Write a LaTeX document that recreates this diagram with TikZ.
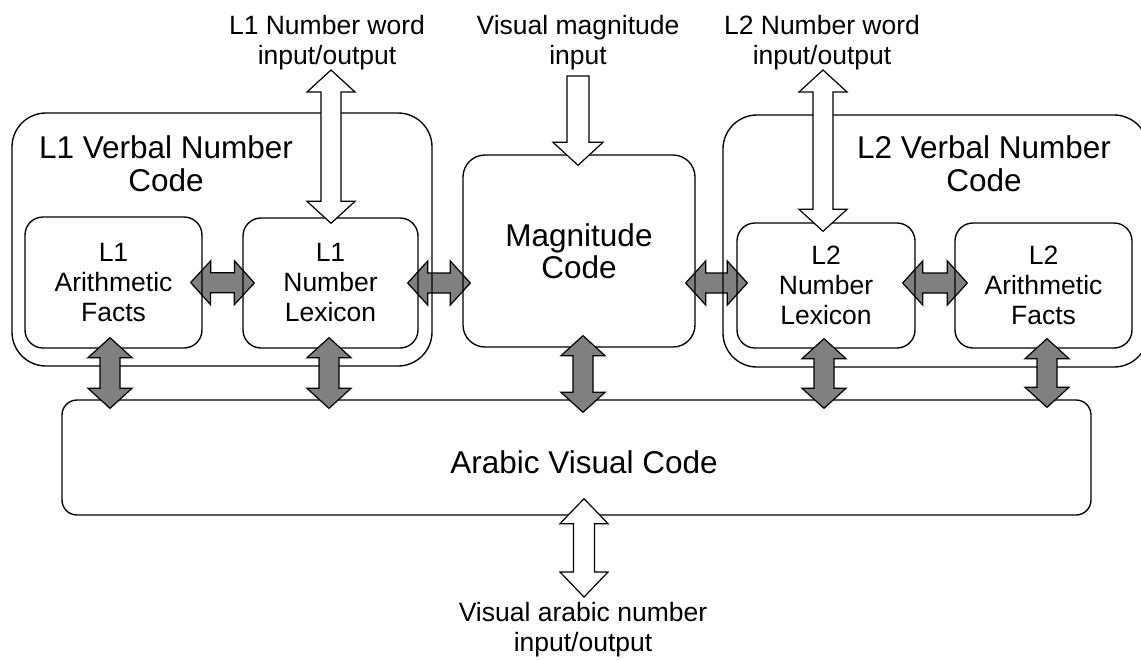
\documentclass[tikz,border=0pt]{standalone}
\usepackage{fontspec}
\setmainfont{Liberation Sans}
\usetikzlibrary{calc,backgrounds}

% block arrow parameters: head length, head half width, shaft half width
\def\bah{20pt}\def\baw{22pt}\def\bas{10pt}

\tikzset{
  blkdims/.code n args={3}{\def\bah{#1}\def\baw{#2}\def\bas{#3}},
  % double-headed block arrow from start to target
  dblblock/.style={to path={
    (\tikztostart)
    -- ($(\tikztostart)!\bah!(\tikztotarget)!\baw!90:(\tikztotarget)$)
    -- ($(\tikztostart)!\bah!(\tikztotarget)!\bas!90:(\tikztotarget)$)
    -- ($(\tikztotarget)!\bah!(\tikztostart)!\bas!-90:(\tikztostart)$)
    -- ($(\tikztotarget)!\bah!(\tikztostart)!\baw!-90:(\tikztostart)$)
    -- (\tikztotarget)
    -- ($(\tikztotarget)!\bah!(\tikztostart)!\baw!90:(\tikztostart)$)
    -- ($(\tikztotarget)!\bah!(\tikztostart)!\bas!90:(\tikztostart)$)
    -- ($(\tikztostart)!\bah!(\tikztotarget)!\bas!-90:(\tikztotarget)$)
    -- ($(\tikztostart)!\bah!(\tikztotarget)!\baw!-90:(\tikztotarget)$)
    -- cycle}},
  % single-headed block arrow pointing at the target
  sglblock/.style={to path={
    ($(\tikztostart)!\bas!90:(\tikztotarget)$)
    -- ($(\tikztotarget)!\bah!(\tikztostart)!\bas!-90:(\tikztostart)$)
    -- ($(\tikztotarget)!\bah!(\tikztostart)!\baw!-90:(\tikztostart)$)
    -- (\tikztotarget)
    -- ($(\tikztotarget)!\bah!(\tikztostart)!\baw!90:(\tikztostart)$)
    -- ($(\tikztotarget)!\bah!(\tikztostart)!\bas!90:(\tikztostart)$)
    -- ($(\tikztostart)!\bas!-90:(\tikztotarget)$)
    -- cycle}},
  grayarrow/.style={draw=black, line width=1.2pt, fill=arrowgray, line join=miter,
    blkdims={20pt}{22pt}{10pt}},
  whitearrow/.style={draw=black, line width=1.2pt, fill=white, line join=miter,
    blkdims={23pt}{24pt}{10.5pt}},
  box/.style={draw=black, line width=1.35pt, align=center, inner sep=0pt},
  bigtext/.style={font=\fontsize{31.5}{33}\selectfont, align=center, inner sep=0pt},
  smalltext/.style={font=\fontsize{26.5}{30}\selectfont, align=center, inner sep=0pt},
  inbox/.style={box, rounded corners=18pt, minimum width=177pt, minimum height=130pt,
    font=\fontsize{26.5}{30}\selectfont},
}
\definecolor{arrowgray}{RGB}{128,128,128}

\begin{document}
\begin{tikzpicture}[x=1pt, y=-1pt]
  \useasboundingbox (0,0) rectangle (1141,659);

  % outer verbal code regions
  \node[box, rounded corners=34pt, minimum width=420pt, minimum height=253pt] (l1v) at (222,239.5) {};
  \node[box, rounded corners=34pt, minimum width=425pt, minimum height=252pt] (l2v) at (935.5,241) {};
  \node[bigtext] (l1vt) at (166,163.5) {L1 Verbal Number\\Code};
  \node[bigtext] (l2vt) at (984,163.5) {L2 Verbal Number\\Code};

  % inner stores
  \node[inbox, minimum height=131pt] (l1af) at (113.5,282.5) {L1\\Arithmetic\\Facts};
  \node[inbox, minimum width=175pt, minimum height=130pt] (l1nl) at (330.5,283) {L1\\Number\\Lexicon};
  \node[inbox, minimum width=178pt, minimum height=125pt] (l2nl) at (826,285.5) {L2\\Number\\Lexicon};
  \node[inbox, minimum height=125pt] (l2af) at (1043.5,285.5) {L2\\Arithmetic\\Facts};

  % central magnitude code
  \node[box, rounded corners=22pt, minimum width=232pt, minimum height=192pt,
        font=\fontsize{31.5}{32}\selectfont] (mag) at (579,251) {Magnitude\\Code};

  % Arabic visual code
  \node[box, rounded corners=15pt, minimum width=1029pt, minimum height=115pt] (arab) at (576.5,457.5) {};
  \node[bigtext] (arabt) at (584,462) {Arabic Visual Code};

  % input/output labels
  \node[smalltext] (l1w) at (327,43) {L1 Number word\\input/output};
  \node[smalltext] (vmi) at (578,43) {Visual magnitude\\input};
  \node[smalltext] (l2w) at (822,43) {L2 Number word\\input/output};
  \node[smalltext] (van) at (583,630) {Visual arabic number\\input/output};

  \coordinate (l1in) at (331,70);
  \coordinate (magin) at (578,76);
  \coordinate (l2in) at (823,70);
  \coordinate (arabout) at (584,597);

  % horizontal links between stores lie beneath the box outlines
  \begin{pgfonlayer}{background}
    \fill[white] (0,0) rectangle (1141,659);
    \draw[grayarrow] ([xshift=-12pt]l1af.east) to[dblblock] ([xshift=12pt]l1nl.west);
    \draw[grayarrow] ([xshift=-11pt]l1nl.east) to[dblblock] ([xshift=8pt]mag.west |- l1nl.east);
    \draw[grayarrow] ([xshift=-10pt]mag.east |- l1nl.east) to[dblblock] ([xshift=11pt]l2nl.west |- l1nl.east);
    \draw[grayarrow] ([xshift=-13pt]l2nl.east |- l1nl.east) to[dblblock] ([xshift=13pt]l2af.west |- l1nl.east);
  \end{pgfonlayer}

  % vertical links to the Arabic visual code
  \draw[grayarrow] ([xshift=-3.5pt,yshift=11pt]l1af.south) to[dblblock] ([xshift=-3.5pt,yshift=-9pt]arab.north -| l1af.south);
  \draw[grayarrow] ([xshift=-1.5pt,yshift=11pt]l1nl.south) to[dblblock] ([xshift=-1.5pt,yshift=-9pt]arab.north -| l1nl.south);
  \draw[grayarrow] ([xshift=4pt,yshift=12pt]mag.south) to[dblblock] ([xshift=4pt,yshift=-13pt]arab.north -| mag.south);
  \draw[grayarrow] ([xshift=-2pt,yshift=10pt]l2nl.south) to[dblblock] ([xshift=-2pt,yshift=-9pt]arab.north -| l2nl.south);
  \draw[grayarrow] ([xshift=3.5pt,yshift=10pt]l2af.south) to[dblblock] ([xshift=3.5pt,yshift=-8pt]arab.north -| l2af.south);

  % external input/output channels
  \draw[whitearrow, blkdims={22pt}{24pt}{10pt}] (l1in) to[dblblock] ([xshift=0.5pt,yshift=-6pt]l1nl.north);
  \draw[whitearrow, blkdims={23pt}{25pt}{11pt}] (magin) to[sglblock] ([yshift=-11pt]mag.north -| magin);
  \draw[whitearrow, blkdims={22pt}{24pt}{10pt}] (l2in) to[dblblock] ([yshift=-9pt]l2nl.north -| l2in);
  \draw[whitearrow, blkdims={25pt}{24pt}{10.5pt}] ([yshift=17pt]arab.south -| arabout) to[dblblock] (arabout);
\end{tikzpicture}
\end{document}
